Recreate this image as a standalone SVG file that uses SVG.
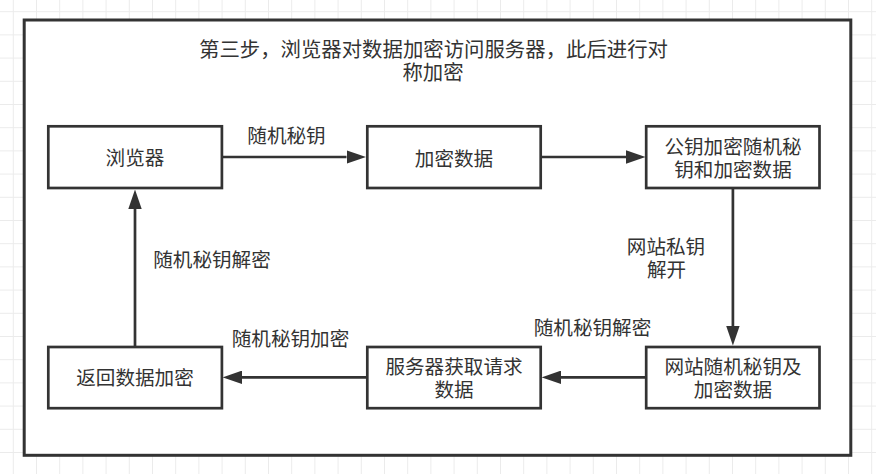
<svg xmlns="http://www.w3.org/2000/svg" width="876" height="474" viewBox="0 0 876 474">
<defs>
<pattern id="grid" x="12.8" y="11.2" width="23.2" height="23.2" patternUnits="userSpaceOnUse">
<path d="M0.5 0 V23.2 M0 0.5 H23.2" fill="none" stroke="#ebebeb" stroke-width="1"/>
</pattern>
<marker id="arr" viewBox="0 0 19.5 13.4" refX="0" refY="6.7" markerWidth="19.5" markerHeight="13.4" markerUnits="userSpaceOnUse" orient="auto">
<path d="M0 0 L19.5 6.7 L0 13.4 Z" fill="#333333"/>
</marker>
</defs>
<style>
.box{fill:#ffffff;stroke:#333333;stroke-width:2.7}
.t{font-family:"Noto Sans CJK SC","Noto Sans",sans-serif;font-size:19.6px;fill:#333333;text-anchor:middle}
.title{font-size:20.4px}
.edge{fill:none;stroke:#333333;stroke-width:2.7;marker-end:url(#arr)}
</style>
<rect width="876" height="474" fill="#ffffff"/>
<rect width="876" height="474" fill="url(#grid)"/>
<g id="frame">
<rect x="24.2" y="20" width="826.6" height="435.3" fill="#ffffff" stroke="#333333" stroke-width="3"/>
<text class="t title" x="433.5" y="56.6">第三步，浏览器对数据加密访问服务器，此后进行对</text>
<text class="t title" x="433" y="80.3">称加密</text>
</g>
<g id="connectors">
<path class="edge" d="M222 157 H346.5"/>
<path class="edge" d="M541 157 H626"/>
<path class="edge" d="M732.9 188.5 V326"/>
<path class="edge" d="M646 377.3 H561"/>
<path class="edge" d="M367 377.3 H242"/>
<path class="edge" d="M135 347 V209"/>
<text class="t" x="286.5" y="143.2">随机秘钥</text>
<text class="t" x="666" y="254.4">网站私钥</text>
<text class="t" x="666.5" y="276.7">解开</text>
<text class="t" x="592.5" y="334.6">随机秘钥解密</text>
<text class="t" x="290.5" y="345.9">随机秘钥加密</text>
<text class="t" x="212" y="266.6">随机秘钥解密</text>
</g>
<g id="node-browser">
<rect class="box" x="48.3" y="126.3" width="173.6" height="61.7"/>
<text class="t" x="135" y="165.2">浏览器</text>
</g>
<g id="node-encdata">
<rect class="box" x="367.3" y="126.3" width="173.4" height="61.7"/>
<text class="t" x="454" y="165.5">加密数据</text>
</g>
<g id="node-pubkey">
<rect class="box" x="646.2" y="126.3" width="173.3" height="61.7"/>
<text class="t" x="733" y="154">公钥加密随机秘</text>
<text class="t" x="733" y="177">钥和加密数据</text>
</g>
<g id="node-site">
<rect class="box" x="646.2" y="347" width="173.3" height="61.2"/>
<text class="t" x="733" y="374">网站随机秘钥及</text>
<text class="t" x="733" y="397.3">加密数据</text>
</g>
<g id="node-server">
<rect class="box" x="367.3" y="347" width="173.4" height="61.2"/>
<text class="t" x="454" y="374.3">服务器获取请求</text>
<text class="t" x="454" y="396.5">数据</text>
</g>
<g id="node-return">
<rect class="box" x="48.3" y="347" width="173.6" height="61.2"/>
<text class="t" x="135" y="385.2">返回数据加密</text>
</g>
</svg>
